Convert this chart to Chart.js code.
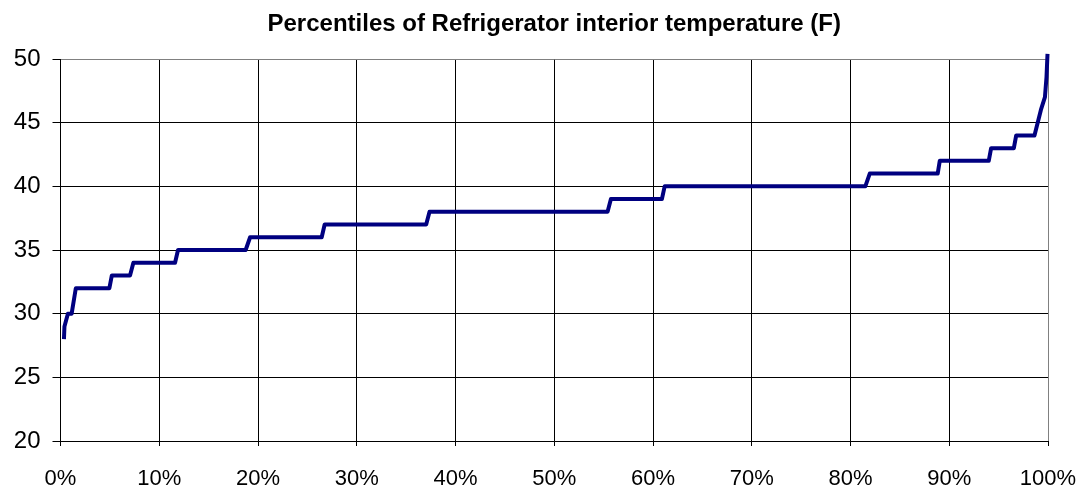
<!DOCTYPE html>
<html lang="en">

<head>
    <meta charset="UTF-8">
    <meta name="viewport" content="width=device-width, initial-scale=1.0">
    <script src="https://cdn.jsdelivr.net/npm/chart.js"></script> <!-- Adiciona Chart.js -->
    <title>Percentiles of Refrigerator interior temperature</title>
    <style>
        body {
            margin: 0;
            background: #fff;
        }

        .grafico-container {
            width: 1083px;
            height: 485px;
        }
    </style>
</head>

<body>
    <div class="grafico-container">
        <canvas id="percentilChart"></canvas>
    </div>

    <script>
        // Percentis (%) onde a curva muda de patamar
        const percentis = [0.35, 0.4, 0.75, 1.13, 1.55, 4.95, 5.2, 7.04, 7.38, 11.6, 11.9, 18.75, 19.2,
            26.45, 26.75, 37.03, 37.37, 55.4, 55.74, 60.9, 61.18, 81.5, 81.95, 88.83, 89.04,
            94.0, 94.24, 96.54, 96.78, 98.63, 99.28, 99.69, 99.85, 99.95];

        // Temperatura interna da geladeira (F) em cada percentil
        const temperaturas = [28, 29, 30, 30, 32, 32, 33, 33, 34, 34, 35, 35, 36,
            36, 37, 37, 38, 38, 39, 39, 40, 40, 41, 41, 42,
            42, 43, 43, 44, 44, 46, 47, 48.6, 50.4];

        // Rótulos dos eixos
        const ticksY = [20, 25, 30, 35, 40, 45, 50];
        const ticksX = [0, 10, 20, 30, 40, 50, 60, 70, 80, 90, 100];

        const titulo = 'Percentiles of Refrigerator interior temperature (F)';
        const fonte = 'Liberation Sans, Arial, sans-serif';

        const pontos = percentis.map((p, i) => ({ x: p, y: temperaturas[i] }));

        // Título centralizado sobre a área do gráfico (e não sobre o canvas todo)
        const tituloPlugin = {
            id: 'tituloArea',
            afterDraw(chart) {
                const { ctx, chartArea } = chart;
                ctx.save();
                ctx.font = 'bold 24px ' + fonte;
                ctx.fillStyle = '#000';
                ctx.textAlign = 'center';
                ctx.textBaseline = 'alphabetic';
                ctx.fillText(titulo, (chartArea.left + chartArea.right) / 2, 31);
                ctx.restore();
            }
        };

        const ctx = document.getElementById('percentilChart').getContext('2d');
        new Chart(ctx, {
            type: 'line',
            data: {
                datasets: [{
                    label: 'Temperatura',
                    data: pontos,
                    borderColor: '#000080', // azul marinho
                    borderWidth: 4,
                    borderJoinStyle: 'round',
                    pointRadius: 0,
                    tension: 0,
                    fill: false,
                    clip: 10
                }]
            },
            options: {
                responsive: true,
                maintainAspectRatio: false,
                animation: false,
                layout: {
                    padding: { left: 0, right: 35, top: 59, bottom: 0 }
                },
                plugins: {
                    legend: { display: false },
                    tooltip: { enabled: false },
                    title: { display: false }
                },
                scales: {
                    x: {
                        type: 'linear',
                        min: ticksX[0],
                        max: ticksX[ticksX.length - 1],
                        afterBuildTicks: s => { s.ticks = ticksX.map(v => ({ value: v })); },
                        afterFit: s => {
                            s.height = 44;
                            s.paddingLeft = 0; // sem folga extra para os rótulos das pontas
                            s.paddingRight = 0;
                        },
                        ticks: {
                            color: '#000',
                            font: { family: fonte, size: 22 },
                            padding: 20,
                            maxRotation: 0,
                            callback: v => v + '%'
                        },
                        grid: {
                            color: c => (c.tick && c.tick.value === 100) ? '#808080' : '#000',
                            tickColor: '#000',
                            tickLength: 5,
                            lineWidth: 1
                        },
                        border: { color: '#000', width: 1 }
                    },
                    y: {
                        min: ticksY[0],
                        max: ticksY[ticksY.length - 1],
                        afterBuildTicks: s => { s.ticks = ticksY.map(v => ({ value: v })); },
                        afterFit: s => { s.width = 60.5; },
                        ticks: {
                            color: '#000',
                            font: { family: fonte, size: 24 },
                            padding: 12
                        },
                        grid: {
                            color: c => (c.tick && c.tick.value === 50) ? '#808080' : '#000',
                            tickColor: '#000',
                            tickLength: 8,
                            lineWidth: 1
                        },
                        border: { color: '#000', width: 1 }
                    }
                }
            },
            plugins: [tituloPlugin]
        });
    </script>
</body>

</html>
